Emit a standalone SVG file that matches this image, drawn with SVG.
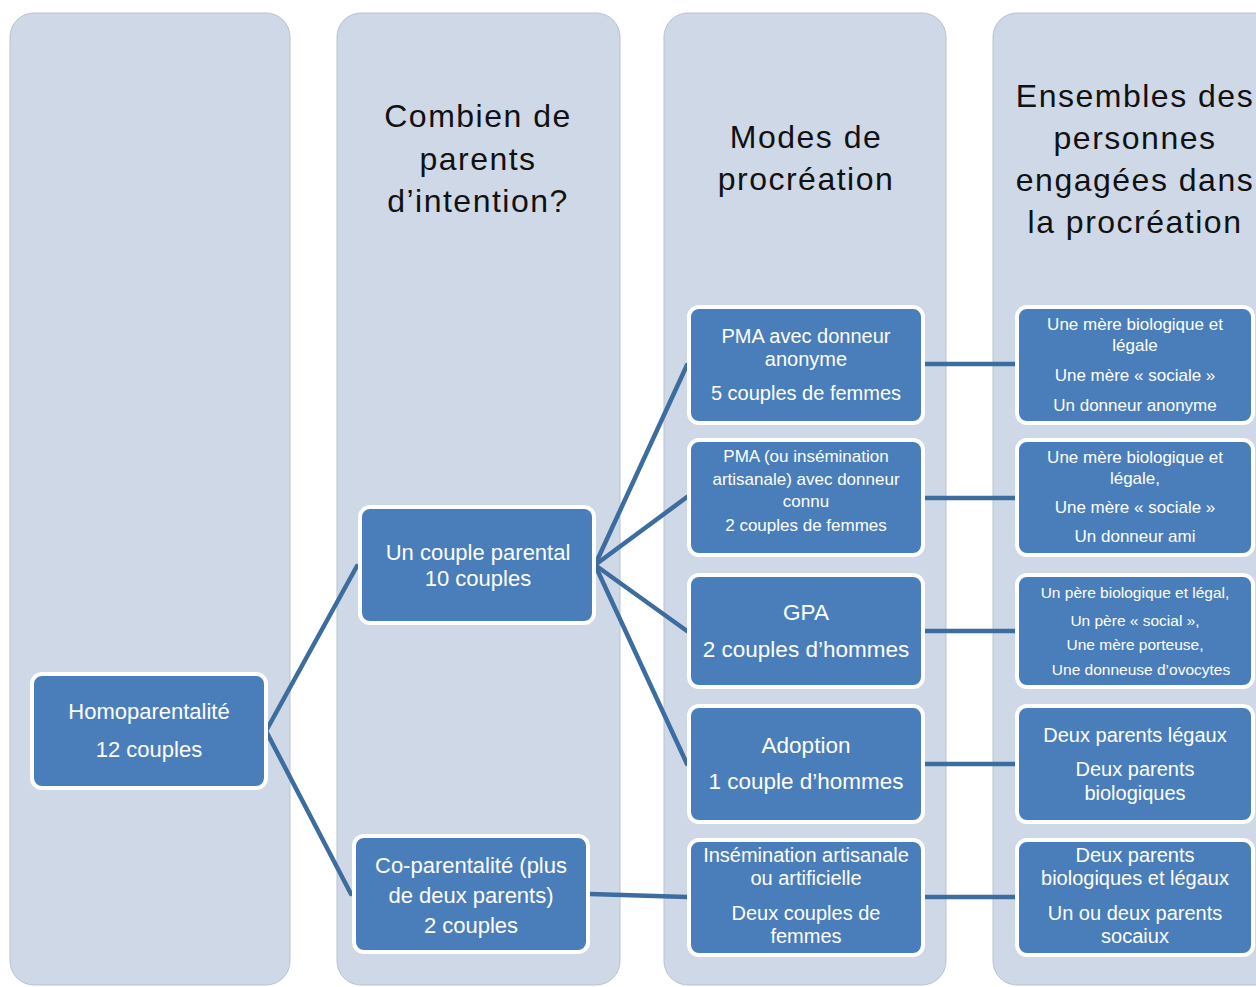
<svg xmlns="http://www.w3.org/2000/svg" width="1256" height="987" viewBox="0 0 1256 987">
<style>
.col{fill:#CED8E7;stroke:#B9C2CF;stroke-width:1}
.hd{font-family:"Liberation Sans",Arial,sans-serif;font-size:32px;letter-spacing:1.5px;fill:#111;text-anchor:middle}
.box{fill:#4A7EBB;stroke:#FFFFFF;stroke-width:4}
.t{font-family:"Liberation Sans",Arial,sans-serif;fill:#FFFFFF;text-anchor:middle}
.conn{stroke:#3D6D9E;stroke-width:4.5;fill:none;stroke-linecap:round}
</style>
<rect width="1256" height="987" fill="#FFFFFF"/>
<g id="columns">
<rect class="col" x="10" y="13" width="280" height="972" rx="24"/>
<rect class="col" x="337" y="13" width="283" height="972" rx="24"/>
<rect class="col" x="664" y="13" width="282" height="972" rx="24"/>
<rect class="col" x="993" y="13" width="290" height="972" rx="24"/>
</g>
<g id="headers">
<text class="hd" x="478" y="127">Combien de</text>
<text class="hd" x="478" y="170">parents</text>
<text class="hd" x="478" y="212">d’intention?</text>
<text class="hd" x="806" y="148">Modes de</text>
<text class="hd" x="806" y="190">procréation</text>
<text class="hd" x="1135" y="107">Ensembles des</text>
<text class="hd" x="1135" y="149">personnes</text>
<text class="hd" x="1135" y="191">engagées dans</text>
<text class="hd" x="1135" y="233">la procréation</text>
</g>
<g id="connectors">
<polyline class="conn" points="357,566 266,731 351,894"/>
<line class="conn" x1="595" y1="565" x2="687" y2="365"/>
<line class="conn" x1="595" y1="565" x2="687" y2="497"/>
<line class="conn" x1="595" y1="565" x2="687" y2="631"/>
<line class="conn" x1="595" y1="565" x2="687" y2="764"/>
<line class="conn" x1="590" y1="894" x2="687" y2="897"/>
<line class="conn" x1="925" y1="364" x2="1015" y2="364"/>
<line class="conn" x1="925" y1="498" x2="1015" y2="498"/>
<line class="conn" x1="925" y1="631" x2="1015" y2="631"/>
<line class="conn" x1="925" y1="764" x2="1015" y2="764"/>
<line class="conn" x1="925" y1="897" x2="1015" y2="897"/>
</g>
<g id="n-homo">
<rect class="box" x="32" y="674" width="234" height="114" rx="10"/>
<text class="t" font-size="22"><tspan x="149" y="719">Homoparentalité</tspan><tspan x="149" y="757">12 couples</tspan></text>
</g>
<g id="n-couple">
<rect class="box" x="360" y="507" width="234" height="116" rx="10"/>
<text class="t" font-size="22"><tspan x="478" y="560">Un couple parental</tspan><tspan x="478" y="586">10 couples</tspan></text>
</g>
<g id="n-copar">
<rect class="box" x="354" y="836" width="234" height="116" rx="10"/>
<text class="t" font-size="22"><tspan x="471" y="873">Co-parentalité (plus</tspan><tspan x="471" y="903">de deux parents)</tspan><tspan x="471" y="933">2 couples</tspan></text>
</g>
<g id="n-pma1">
<rect class="box" x="689" y="307" width="234" height="116" rx="10"/>
<text class="t" font-size="20"><tspan x="806" y="343">PMA avec donneur</tspan><tspan x="806" y="366">anonyme</tspan><tspan x="806" y="400">5 couples de femmes</tspan></text>
</g>
<g id="n-pma2">
<rect class="box" x="689" y="440" width="234" height="115" rx="10"/>
<text class="t" font-size="17"><tspan x="806" y="462">PMA (ou insémination</tspan><tspan x="806" y="485">artisanale) avec donneur</tspan><tspan x="806" y="507">connu</tspan><tspan x="806" y="531">2 couples de femmes</tspan></text>
</g>
<g id="n-gpa">
<rect class="box" x="689" y="575" width="234" height="112" rx="10"/>
<text class="t" font-size="22.5"><tspan x="806" y="620">GPA</tspan><tspan x="806" y="657">2 couples d’hommes</tspan></text>
</g>
<g id="n-adopt">
<rect class="box" x="689" y="706" width="234" height="116" rx="10"/>
<text class="t" font-size="22.5"><tspan x="806" y="753">Adoption</tspan><tspan x="806" y="789">1 couple d’hommes</tspan></text>
</g>
<g id="n-insem">
<rect class="box" x="689" y="840" width="234" height="115" rx="10"/>
<text class="t" font-size="20"><tspan x="806" y="862">Insémination artisanale</tspan><tspan x="806" y="885">ou artificielle</tspan><tspan x="806" y="920">Deux couples de</tspan><tspan x="806" y="943">femmes</tspan></text>
</g>
<g id="n-r1">
<rect class="box" x="1017" y="307" width="236" height="116" rx="10"/>
<text class="t" font-size="17"><tspan x="1135" y="330">Une mère  biologique et</tspan><tspan x="1135" y="351">légale</tspan><tspan x="1135" y="381">Une mère  « sociale »</tspan><tspan x="1135" y="411">Un donneur anonyme</tspan></text>
</g>
<g id="n-r2">
<rect class="box" x="1017" y="440" width="236" height="115" rx="10"/>
<text class="t" font-size="17"><tspan x="1135" y="463">Une mère biologique et</tspan><tspan x="1135" y="484">légale,</tspan><tspan x="1135" y="513">Une mère « sociale »</tspan><tspan x="1135" y="542">Un donneur ami</tspan></text>
</g>
<g id="n-r3">
<rect class="box" x="1017" y="575" width="236" height="112" rx="10"/>
<text class="t" font-size="15.5"><tspan x="1135" y="598">Un père  biologique et légal,</tspan><tspan x="1135" y="626">Un père « social »,</tspan><tspan x="1135" y="650">Une mère porteuse,</tspan><tspan x="1141" y="675">Une donneuse d’ovocytes</tspan></text>
</g>
<g id="n-r4">
<rect class="box" x="1017" y="706" width="236" height="116" rx="10"/>
<text class="t" font-size="20"><tspan x="1135" y="742">Deux parents légaux</tspan><tspan x="1135" y="776">Deux parents</tspan><tspan x="1135" y="800">biologiques</tspan></text>
</g>
<g id="n-r5">
<rect class="box" x="1017" y="840" width="236" height="115" rx="10"/>
<text class="t" font-size="20"><tspan x="1135" y="862">Deux parents</tspan><tspan x="1135" y="885">biologiques et légaux</tspan><tspan x="1135" y="920">Un ou deux parents</tspan><tspan x="1135" y="943">socaiux</tspan></text>
</g>
</svg>
